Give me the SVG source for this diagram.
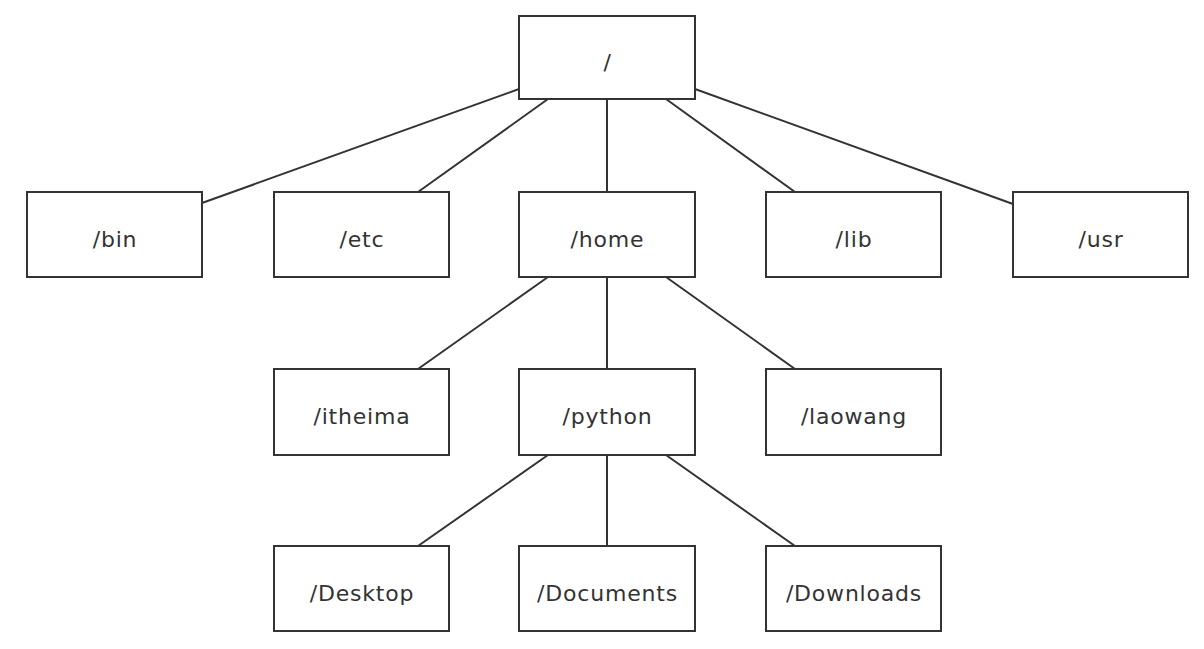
<svg xmlns="http://www.w3.org/2000/svg" width="1204" height="649" viewBox="0 0 1204 649">
<style>
.box{fill:#fff;stroke:#333;stroke-width:2}
.lbl{font-family:"DejaVu Sans","Liberation Sans",Arial,sans-serif;font-size:22px;letter-spacing:0.8px;fill:#333;text-anchor:middle}
.ln{stroke:#333;stroke-width:2;fill:none}
</style>
<rect width="1204" height="649" fill="#fff"/>
<g id="connectors">
<line class="ln" x1="519" y1="89" x2="202" y2="203"/>
<line class="ln" x1="548" y1="99" x2="418" y2="192"/>
<line class="ln" x1="607" y1="99" x2="607" y2="192"/>
<line class="ln" x1="666" y1="99" x2="795" y2="192"/>
<line class="ln" x1="695" y1="89" x2="1013" y2="204"/>
<line class="ln" x1="548" y1="277" x2="418" y2="369"/>
<line class="ln" x1="607" y1="277" x2="607" y2="369"/>
<line class="ln" x1="666" y1="277" x2="795" y2="369"/>
<line class="ln" x1="548" y1="455" x2="418" y2="546"/>
<line class="ln" x1="607" y1="455" x2="607" y2="546"/>
<line class="ln" x1="666" y1="455" x2="795" y2="546"/>
</g>
<g id="root"><rect class="box" x="519" y="16" width="176" height="83"/><text class="lbl" x="607.5" y="70">/</text></g>
<g id="bin"><rect class="box" x="27" y="192" width="175" height="85"/><text class="lbl" x="115" y="247">/bin</text></g>
<g id="etc"><rect class="box" x="274" y="192" width="175" height="85"/><text class="lbl" x="362" y="247">/etc</text></g>
<g id="home"><rect class="box" x="519" y="192" width="176" height="85"/><text class="lbl" x="607.5" y="247">/home</text></g>
<g id="lib"><rect class="box" x="766" y="192" width="175" height="85"/><text class="lbl" x="854" y="247">/lib</text></g>
<g id="usr"><rect class="box" x="1013" y="192" width="175" height="85"/><text class="lbl" x="1101" y="247">/usr</text></g>
<g id="itheima"><rect class="box" x="274" y="369" width="175" height="86"/><text class="lbl" x="362" y="424">/itheima</text></g>
<g id="python"><rect class="box" x="519" y="369" width="176" height="86"/><text class="lbl" x="607.5" y="424">/python</text></g>
<g id="laowang"><rect class="box" x="766" y="369" width="175" height="86"/><text class="lbl" x="854" y="424">/laowang</text></g>
<g id="desktop"><rect class="box" x="274" y="546" width="175" height="85"/><text class="lbl" x="362" y="601">/Desktop</text></g>
<g id="documents"><rect class="box" x="519" y="546" width="176" height="85"/><text class="lbl" x="607.5" y="601">/Documents</text></g>
<g id="downloads"><rect class="box" x="766" y="546" width="175" height="85"/><text class="lbl" x="854" y="601">/Downloads</text></g>
</svg>
